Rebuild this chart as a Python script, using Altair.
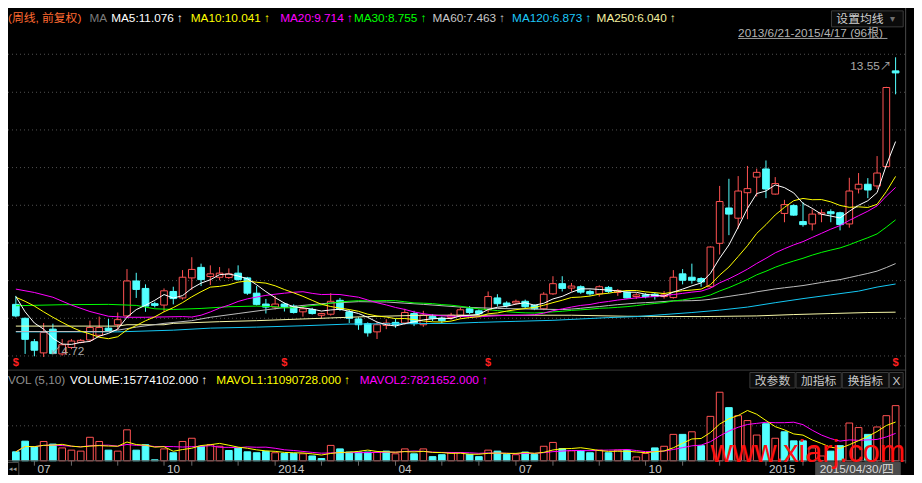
import altair as alt
import pandas as pd

# ---------------- data (weekly bars 2013/6/21 - 2015/4/17) ----------------
opens = [6.27, 5.86, 5.17, 4.84, 5.54, 4.81, 5.00, 5.15, 5.22, 5.36,
         5.57, 5.67, 5.93, 6.96, 6.74, 6.29, 6.25, 6.65, 6.46, 7.05,
         7.36, 7.09, 7.07, 7.06, 7.19, 7.05, 6.60, 6.28, 6.19, 6.28,
         6.22, 6.05, 6.12, 5.95, 5.98, 6.39, 6.05, 5.84, 5.70, 5.46,
         5.65, 5.74, 5.72, 6.00, 5.67, 5.91, 5.86, 5.88, 5.95, 6.14,
         6.08, 6.11, 6.46, 6.31, 6.31, 6.36, 6.24, 6.14, 6.58, 6.88,
         6.75, 6.79, 6.65, 6.58, 6.77, 6.62, 6.63, 6.50, 6.55, 6.57,
         6.50, 6.47, 7.17, 7.07, 7.03, 6.79, 8.07, 9.11, 8.81, 9.56,
         10.02, 10.26, 9.52, 8.95, 9.18, 8.71, 8.64, 8.93, 9.00, 8.97,
         8.64, 9.67, 9.81, 9.76, 10.33, 13.15]
highs = [6.52, 5.88, 5.25, 5.72, 5.70, 5.25, 5.25, 5.25, 5.79, 5.91,
         5.84, 6.03, 7.31, 7.20, 6.86, 6.35, 6.74, 6.79, 7.28, 7.66,
         7.47, 7.42, 7.37, 7.33, 7.42, 7.08, 6.81, 6.43, 6.52, 6.32,
         6.27, 6.22, 6.17, 6.02, 6.60, 6.46, 6.11, 5.89, 5.74, 5.76,
         5.83, 5.85, 6.14, 6.08, 6.08, 5.98, 5.91, 6.02, 6.18, 6.22,
         6.12, 6.65, 6.57, 6.36, 6.41, 6.41, 6.27, 6.63, 7.10, 7.10,
         6.90, 6.83, 6.70, 6.83, 6.81, 6.72, 6.65, 6.60, 6.60, 6.62,
         6.66, 7.28, 7.31, 7.47, 7.07, 7.98, 9.76, 9.97, 10.05, 10.35,
         10.27, 10.51, 10.02, 9.35, 9.22, 9.28, 9.07, 9.07, 9.07, 9.00,
         10.00, 10.14, 9.99, 10.64, 12.68, 13.55]
lows = [5.89, 4.81, 4.74, 4.72, 4.80, 4.76, 4.95, 5.12, 5.17, 5.32,
        5.46, 5.52, 5.89, 6.46, 6.05, 6.18, 6.05, 6.27, 6.41, 6.69,
        6.81, 6.84, 6.98, 7.02, 6.97, 6.55, 6.24, 6.00, 6.12, 6.06,
        6.00, 5.91, 5.97, 5.86, 5.94, 6.08, 5.72, 5.52, 5.32, 5.25,
        5.54, 5.58, 5.67, 5.63, 5.61, 5.78, 5.72, 5.82, 5.86, 5.98,
        5.96, 6.03, 6.21, 6.18, 6.26, 6.16, 6.10, 6.10, 6.55, 6.65,
        6.65, 6.58, 6.53, 6.50, 6.60, 6.52, 6.44, 6.43, 6.45, 6.41,
        6.44, 6.44, 6.86, 6.88, 6.79, 6.76, 7.74, 8.31, 8.50, 8.78,
        9.45, 9.40, 9.50, 8.69, 8.88, 8.56, 8.45, 8.69, 8.69, 8.45,
        8.53, 9.54, 9.40, 9.67, 10.30, 12.46]
closes = [5.93, 5.24, 4.92, 5.44, 4.82, 5.08, 5.19, 5.21, 5.59, 5.59,
          5.50, 5.82, 6.96, 6.71, 6.22, 6.24, 6.67, 6.44, 7.07, 7.30,
          7.00, 7.17, 7.19, 7.17, 7.00, 6.60, 6.27, 6.19, 6.28, 6.20,
          6.03, 6.14, 6.00, 6.00, 6.36, 6.12, 5.86, 5.67, 5.43, 5.67,
          5.72, 5.67, 6.03, 5.70, 5.95, 5.86, 5.79, 5.95, 6.11, 6.03,
          6.00, 6.50, 6.29, 6.24, 6.36, 6.20, 6.14, 6.57, 6.88, 6.74,
          6.81, 6.63, 6.58, 6.79, 6.65, 6.68, 6.46, 6.55, 6.50, 6.50,
          6.55, 7.07, 6.98, 6.98, 6.93, 7.96, 9.30, 8.93, 9.61, 9.68,
          10.16, 9.67, 9.83, 9.21, 8.90, 8.62, 8.93, 8.97, 8.94, 8.62,
          9.61, 9.81, 9.64, 10.14, 12.66, 13.09]
# weekly volume, millions of shares
volumes = [2.57, 5.61, 3.95, 5.52, 4.78, 3.68, 3.04, 2.76, 6.72, 5.52,
           3.04, 2.76, 8.85, 3.04, 4.60, 0.28, 3.40, 2.30, 5.52, 6.44,
           4.15, 4.60, 4.15, 2.94, 3.68, 2.57, 2.30, 2.67, 2.30, 2.10,
           2.10, 2.00, 1.38, 0.65, 4.40, 3.40, 2.49, 2.49, 2.49, 2.49,
           2.76, 2.00, 3.40, 2.00, 3.40, 1.19, 1.74, 2.30, 2.30, 1.83,
           1.19, 3.04, 2.76, 1.83, 1.74, 2.49, 1.83, 4.15, 5.25, 3.48,
           2.85, 2.94, 2.30, 3.04, 2.30, 3.04, 3.04, 1.10, 2.10, 3.68,
           4.15, 7.55, 7.55, 8.29, 4.33, 12.70, 19.60, 15.20, 12.90, 11.50,
           7.36, 10.60, 6.44, 8.29, 5.70, 5.70, 3.68, 1.38, 2.76, 4.33,
           10.80, 9.50, 7.55, 9.67, 12.90, 15.77]
# colour of each volume bar as drawn (r = rising, c = falling)
vol_dirs = ("cccrcrrrrr" "crrcccrcrr" "crrcccccrc" "crccrccccr" "crrcrccr"
            "rccrccrccr" "rcrccrcrcr" "rcrrcrcrrc" "rrrcrcccrr" "ccrrcrrr")

# moving-average values before the computed window is full
ma5_head_idx = [0, 1, 2, 3]
ma5_head_val = [6.50, 6.05, 5.72, 5.54]
ma10_head_idx = [0, 1, 2, 3, 4, 5, 6, 7, 8]
ma10_head_val = [6.48, 6.36, 6.22, 6.05, 5.89, 5.74, 5.60, 5.48, 5.40]
ma20_head_idx = [0, 2, 4, 6, 8, 10, 12, 14, 16, 18]
ma20_head_val = [6.72, 6.62, 6.48, 6.25, 6.06, 5.92, 5.89, 5.89, 5.90, 5.91]
ma30_head_idx = [0, 5, 10, 13, 15, 17, 20, 23, 26, 28]
ma30_head_val = [6.23, 6.26, 6.27, 6.24, 6.14, 6.12, 6.15, 6.20, 6.22, 6.20]
ma60_head_idx = [0, 10, 11, 13, 16, 19, 21, 24, 27, 31, 34, 37, 40, 44, 48, 52, 56]
ma60_head_val = [5.47, 5.47, 5.51, 5.60, 5.71, 5.79, 5.89, 6.00, 6.11, 6.24, 6.31, 6.35,
                 6.34, 6.27, 6.19, 6.15, 6.13]
ma120_idx = [0, 11, 17, 21, 26, 31, 36, 47, 50, 54, 58, 61, 64, 67, 70, 73, 76, 79, 82, 85,
             88, 91, 93, 95]
ma120_val = [5.46, 5.46, 5.51, 5.57, 5.60, 5.64, 5.69, 5.71, 5.74, 5.77, 5.80, 5.84, 5.88,
             5.91, 5.97, 6.03, 6.10, 6.19, 6.32, 6.44, 6.55, 6.66, 6.78, 6.87]
ma250_idx = [0, 11, 12, 16, 17, 22, 26, 31, 34, 38, 44, 60, 66, 74, 80, 84, 88, 92, 95]
ma250_val = [5.63, 5.63, 5.67, 5.67, 5.71, 5.76, 5.79, 5.84, 5.87, 5.91, 5.95, 5.95, 5.92,
             5.91, 5.93, 5.97, 6.00, 6.03, 6.04]

grid_prices = [13.64, 12.52, 11.41, 10.30, 9.19, 8.08, 6.97, 5.86, 4.75]
vol_grid = [10]
month_tick_idx = [2, 6, 11, 16, 19, 24, 28, 33, 37, 41, 46, 50, 54, 58, 63, 68, 72, 76, 81, 85, 89, 93]
axis_label_idx = [2, 16, 28, 41, 54, 68, 81]
axis_labels = ["07", "10", "2014", "04", "07", "10", "2015"]
event_idx = [0, 29, 51, 95]

ma_names = ["MA250", "MA120", "MA60", "MA30", "MA20", "MA10", "MA5"]
ma_colors = ["#f8f8a8", "#14c8f4", "#bcbcbc", "#00ff00", "#ff00ff", "#ffff00", "#ffffff"]

hdr_texts = ["(周线, 前复权)", "MA", "MA5:11.076 ↑", "MA10:10.041 ↑", "MA20:9.714 ↑",
             "MA30:8.755 ↑", "MA60:7.463 ↑", "MA120:6.873 ↑", "MA250:6.040 ↑"]
hdr_x = [0, 83, 105, 186, 277, 352, 432, 513, 599]
hdr_colors = ["#ff6a30", "#7c7c7c", "#ffffff", "#ffff00", "#ff00ff", "#00ff00", "#c8c8c8",
              "#1ec8f8", "#f4f0a0"]
vol_texts = ["VOL (5,10)", "VOLUME:15774102.000 ↑", "MAVOL1:11090728.000 ↑", "MAVOL2:7821652.000 ↑"]
vol_x = [0, 63, 212, 358]
vol_colors = ["#909090", "#ffffff", "#ffff00", "#ff00ff"]
btn_texts = ["改参数", "加指标", "换指标", "X"]
btn_x0 = [755, 802, 849, 897]
btn_x1 = [801, 848, 896, 911]

# ---------------- layout constants ----------------
SX, SY = 906 / 922, 467 / 483
W, H = 906, 467
FONT = "Liberation Sans, Noto Sans CJK SC, sans-serif"
RED, CYAN, BLACK = "#ff5252", "#52ffff", "#000000"

X_SCALE = alt.Scale(domain=[-8 / 9.424, 914 / 9.424], nice=False, zero=False)
P_SCALE = alt.Scale(domain=[13.55 - 432 / 35.1, 13.55 + 51 / 35.1], nice=False, zero=False)
V_SCALE = alt.Scale(domain=[(468.3 - 483) / 3.617, 468.3 / 3.617], nice=False, zero=False)


def X(f):
    return alt.X(f, scale=X_SCALE, axis=None)


def YP(f):
    return alt.Y(f, scale=P_SCALE, axis=None)


def YV(f):
    return alt.Y(f, scale=V_SCALE, axis=None)


def px(v):
    return v * SX


def py(v):
    return v * SY


def text_layer(texts, xs, ys, cols, size, align="left", font=FONT, baseline="middle", weight="normal"):
    df = pd.DataFrame({"t": texts, "x": [px(v) for v in xs], "y": [py(v) for v in ys],
                       "c": cols, "s": [size * SX] * len(texts)})
    return alt.Chart(df).mark_text(align=align, baseline=baseline, font=font, fontWeight=weight).encode(
        x=alt.X("x:Q", scale=None), y=alt.Y("y:Q", scale=None), text="t:N",
        color=alt.Color("c:N", scale=None), size=alt.Size("s:Q", scale=None))


def box_layer(x0, x1, y0, y1, fill, stroke):
    df = pd.DataFrame({"x": [px(v) for v in x0], "x2": [px(v) for v in x1],
                       "y": [py(v) for v in y0], "y2": [py(v) for v in y1],
                       "f": fill, "s": stroke})
    return alt.Chart(df).mark_rect(strokeWidth=1).encode(
        x=alt.X("x:Q", scale=None), x2="x2:Q", y=alt.Y("y:Q", scale=None), y2="y2:Q",
        fill=alt.Fill("f:N", scale=None), stroke=alt.Stroke("s:N", scale=None))


def line_px(x0, x1, y0, y1, color, dash=None):
    df = pd.DataFrame({"x": [px(x0)], "x2": [px(x1)], "y": [py(y0)], "y2": [py(y1)]})
    kw = dict(color=color, strokeWidth=1)
    if dash:
        kw["strokeDash"] = dash
    return alt.Chart(df).mark_rule(**kw).encode(
        x=alt.X("x:Q", scale=None), x2="x2:Q", y=alt.Y("y:Q", scale=None), y2="y2:Q")


n = len(closes)
idx = list(range(n))

# candles
cd = pd.DataFrame({"i": idx, "o": opens, "h": highs, "l": lows, "c": closes})
cd["up"] = cd["c"] >= cd["o"]
cd["top"] = cd[["o", "c"]].max(axis=1)
cd["bot"] = cd[["o", "c"]].min(axis=1)
thin = (cd["top"] - cd["bot"]) < 0.03
cd.loc[thin, "top"] = cd.loc[thin, "top"] + 0.012
cd.loc[thin, "bot"] = cd.loc[thin, "bot"] - 0.012
cd["xl"] = cd["i"] - 0.36
cd["xr"] = cd["i"] + 0.36
cd["col"] = [RED if u else CYAN for u in cd["up"]]
cd["fill"] = [BLACK if u else CYAN for u in cd["up"]]

# moving averages of price
cs = pd.Series(closes)
ma_rows = []
heads = {"MA5": (5, ma5_head_idx, ma5_head_val), "MA10": (10, ma10_head_idx, ma10_head_val),
         "MA20": (20, ma20_head_idx, ma20_head_val), "MA30": (30, ma30_head_idx, ma30_head_val),
         "MA60": (60, ma60_head_idx, ma60_head_val)}
for name, color in zip(ma_names, ma_colors):
    if name in heads:
        win, hi, hv = heads[name]
        roll = cs.rolling(win).mean()
        pts = list(zip(hi, hv)) + [(i, float(roll[i])) for i in range(win - 1, n)]
    elif name == "MA120":
        pts = list(zip(ma120_idx, ma120_val))
    else:
        pts = list(zip(ma250_idx, ma250_val))
    for i, v in pts:
        ma_rows.append({"i": i, "v": v, "name": name, "col": color})
ma_df = pd.DataFrame(ma_rows)

# volume
vd = pd.DataFrame({"i": idx, "v": volumes, "d": list(vol_dirs)})
vd["xl"] = vd["i"] - 0.36
vd["xr"] = vd["i"] + 0.36
vd["zero"] = 0.0
vd["col"] = [RED if d == "r" else CYAN for d in vd["d"]]
vd["fill"] = [BLACK if d == "r" else CYAN for d in vd["d"]]
vs = pd.Series(volumes)
mv_df = pd.concat([
    pd.DataFrame({"i": idx, "v": vs.rolling(10, min_periods=1).mean(), "name": "MAVOL2", "col": "#ff00ff"}),
    pd.DataFrame({"i": idx, "v": vs.rolling(5, min_periods=1).mean(), "name": "MAVOL1", "col": "#ffff00"}),
])

layers = []

# ---- price panel ----
layers.append(alt.Chart(pd.DataFrame({"p": grid_prices})).mark_rule(
    color="#505050", strokeDash=[1, 3], strokeWidth=1).encode(
    y=YP("p:Q"), x=alt.value(0), x2=alt.value(px(913))))
layers.append(alt.Chart(cd).mark_rule(strokeWidth=1).encode(
    x=X("i:Q"), y=YP("l:Q"), y2="h:Q", color=alt.Color("col:N", scale=None)))
layers.append(alt.Chart(cd).mark_rect(strokeWidth=1).encode(
    x=X("xl:Q"), x2="xr:Q", y=YP("bot:Q"), y2="top:Q",
    fill=alt.Fill("fill:N", scale=None), stroke=alt.Stroke("col:N", scale=None)))
layers.append(alt.Chart(ma_df).mark_line(strokeWidth=1).encode(
    x=X("i:Q"), y=YP("v:Q"), color=alt.Color("col:N", scale=None), detail="name:N", order="i:Q"))

hi_i = int(pd.Series(highs).idxmax())
lo_i = int(pd.Series(lows).idxmin())
hl_df = pd.DataFrame({"i": [hi_i], "p": [highs[hi_i]], "t": [f"{highs[hi_i]:.2f}↗"]})
layers.append(alt.Chart(hl_df).mark_text(align="right", baseline="middle", font=FONT,
                                         fontSize=11.8, color="#a8a8a8", dx=-4, dy=8.5).encode(
    x=X("i:Q"), y=YP("p:Q"), text="t:N"))
lo_df = pd.DataFrame({"i": [lo_i], "p": [lows[lo_i]], "t": [f"↙{lows[lo_i]:.2f}"]})
layers.append(alt.Chart(lo_df).mark_text(align="left", baseline="middle", font=FONT,
                                         fontSize=11.8, color="#a8a8a8", dx=6, dy=-6).encode(
    x=X("i:Q"), y=YP("p:Q"), text="t:N"))
layers.append(alt.Chart(pd.DataFrame({"i": event_idx, "t": ["$"] * len(event_idx)})).mark_text(
    align="center", baseline="middle", font=FONT, fontSize=11, fontWeight="bold", color="#ff2020").encode(
    x=X("i:Q"), y=alt.value(py(367.5)), text="t:N"))

# header texts
layers.append(text_layer(hdr_texts, hdr_x, [10] * len(hdr_texts), hdr_colors, 12))
layers.append(box_layer([838], [911], [3], [19.5], ["#0b0b0b"], ["#3c3c3c"]))
layers.append(text_layer(["设置均线"], [843], [11.5], ["#d0d0d0"], 12))
layers.append(text_layer(["▾"], [898], [11.5], ["#707070"], 10))
layers.append(text_layer(["2013/6/21-2015/4/17 (96根)"], [743], [25.5], ["#b4b4b4"], 12))
layers.append(line_px(743, 895, 31.5, 31.5, "#9a9a9a"))

# frame lines
layers.append(line_px(0, 914, 374.5, 374.5, "#3c3c3c"))
layers.append(line_px(913.5, 913.5, 0, 471, "#4a4a4a"))

# ---- volume panel ----
layers.append(alt.Chart(pd.DataFrame({"v": vol_grid})).mark_rule(
    color="#505050", strokeDash=[1, 3], strokeWidth=1).encode(
    y=YV("v:Q"), x=alt.value(0), x2=alt.value(px(913))))
layers.append(alt.Chart(vd).mark_rect(strokeWidth=1).encode(
    x=X("xl:Q"), x2="xr:Q", y=YV("v:Q"), y2="zero:Q",
    fill=alt.Fill("fill:N", scale=None), stroke=alt.Stroke("col:N", scale=None)))
layers.append(alt.Chart(mv_df).mark_line(strokeWidth=1).encode(
    x=X("i:Q"), y=YV("v:Q"), color=alt.Color("col:N", scale=None), detail="name:N", order="i:Q"))
layers.append(alt.Chart(pd.DataFrame({"v": [0]})).mark_rule(color="#5a5a5a", strokeWidth=1).encode(
    y=YV("v:Q"), x=alt.value(0), x2=alt.value(px(914))))
tick_df = pd.DataFrame({"i": month_tick_idx, "a": 0.0, "b": -1.4})
layers.append(alt.Chart(tick_df).mark_rule(color="#6a6a6a", strokeWidth=1).encode(
    x=X("i:Q"), y=YV("a:Q"), y2="b:Q"))
layers.append(alt.Chart(pd.DataFrame({"i": axis_label_idx, "t": axis_labels})).mark_text(
    align="left", baseline="middle", font=FONT, fontSize=11.8, color="#c8c8c8", dx=3).encode(
    x=X("i:Q"), y=alt.value(py(477)), text="t:N"))

layers.append(text_layer(vol_texts, vol_x, [385] * len(vol_texts), vol_colors, 12))
layers.append(box_layer(btn_x0, btn_x1, [377] * 4, [393] * 4, ["#0d0d0d"] * 4, ["#3a3a3a"] * 4))
layers.append(text_layer(btn_texts, [(a + b) / 2 for a, b in zip(btn_x0, btn_x1)], [385.5] * 4,
                         ["#c8c8c8"] * 4, 12, align="center"))
layers.append(box_layer([-1], [11], [470], [484], ["#000000"], ["#505050"]))
layers.append(text_layer(["◂◂"], [5], [477], ["#9a9a9a"], 7, align="center"))
layers.append(box_layer([822], [908], [470], [483.5], ["#4b4b4b"], ["#4b4b4b"]))
layers.append(text_layer(["2015/04/30/四"], [826], [477], ["#d8d8d8"], 12))

# site watermark
layers.append(text_layer(["www.xiarj.com"], [715], [470], ["#ff1010"], 31,
                         font="Liberation Sans, sans-serif", baseline="alphabetic"))

chart = alt.layer(*layers).resolve_scale(x="independent", y="independent").properties(
    width=W, height=H, autosize=alt.AutoSizeParams(type="none"), padding=0, background="#000000"
).configure_view(strokeWidth=0)

chart.save("out.html", embed_options={"renderer": "svg", "actions": False})
